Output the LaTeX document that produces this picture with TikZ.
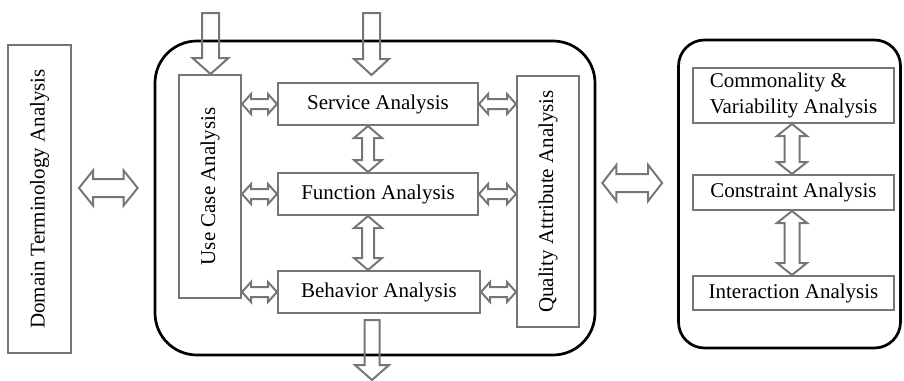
\documentclass[tikz,border=0pt]{standalone}
\usepackage{fontspec}
\setmainfont{Liberation Serif}
\usepackage{graphicx}
\usetikzlibrary{calc}

\definecolor{boxgray}{RGB}{118,118,118}

\tikzset{
  box/.style={draw=boxgray, line width=2pt, fill=white, inner sep=0pt,
    font=\fontsize{21}{26}\selectfont, align=center},
  frame/.style={draw=black, line width=2.7pt, inner sep=0pt},
  blockarrow/.style={draw=boxgray, line width=2pt, line join=miter},
}

% hollow double arrow, left end #1 to right end #2
% #3 half shaft width, #4 half head width, #5 head length
\newcommand\hbiarrow[5]{%
  \draw[blockarrow] let \p1=#1, \p2=#2 in
    (\x1,\y1) -- (\x1+#5,\y1+#4) -- (\x1+#5,\y1+#3) -- (\x2-#5,\y1+#3)
    -- (\x2-#5,\y1+#4) -- (\x2,\y1) -- (\x2-#5,\y1-#4) -- (\x2-#5,\y1-#3)
    -- (\x1+#5,\y1-#3) -- (\x1+#5,\y1-#4) -- cycle;}

% hollow double arrow, upper end #1 to lower end #2
\newcommand\vbiarrow[5]{%
  \draw[blockarrow] let \p1=#1, \p2=#2 in
    (\x1,\y1) -- (\x1+#4,\y1-#5) -- (\x1+#3,\y1-#5) -- (\x1+#3,\y2+#5)
    -- (\x1+#4,\y2+#5) -- (\x1,\y2) -- (\x1-#4,\y2+#5) -- (\x1-#3,\y2+#5)
    -- (\x1-#3,\y1-#5) -- (\x1-#4,\y1-#5) -- cycle;}

% hollow single arrow pointing down, tail #1, tip #2
\newcommand\vdownarrow[5]{%
  \draw[blockarrow] let \p1=#1, \p2=#2 in
    (\x1-#3,\y1) -- (\x1-#3,\y2+#5) -- (\x1-#4,\y2+#5) -- (\x1,\y2)
    -- (\x1+#4,\y2+#5) -- (\x1+#3,\y2+#5) -- (\x1+#3,\y1) -- cycle;}

\begin{document}
\begin{tikzpicture}[x=1pt, y=-1pt]
\useasboundingbox (0,0) rectangle (904,380);

% outer groups
\node[frame, rounded corners=42pt, minimum width=440pt, minimum height=314pt] (main) at (375,198) {};
\node[frame, rounded corners=26pt, minimum width=222pt, minimum height=308pt] (right) at (789.5,194) {};

% left column
\node[box, minimum width=63pt, minimum height=308pt] (domain) at (39.5,199)
  {\rotatebox{90}{Domain Terminology Analysis}};

% middle group
\node[box, minimum width=62pt, minimum height=223pt] (usecase) at (210,186.5)
  {\rotatebox{90}{Use Case Analysis}};
\node[box, minimum width=200pt, minimum height=42pt] (service) at (378,104) {Service Analysis};
\node[box, minimum width=200pt, minimum height=42pt] (function) at (378,194) {Function Analysis};
\node[box, minimum width=202pt, minimum height=42pt] (behavior) at (379,292) {Behavior Analysis};
\node[box, minimum width=62pt, minimum height=251pt] (quality) at (548,201.5)
  {\rotatebox{90}{Quality Attribute Analysis}};

% right group
\node[box, minimum width=201pt, minimum height=55pt, align=left] (common) at (793.5,95.5)
  {Commonality \&\\Variability Analysis};
\node[box, minimum width=201pt, minimum height=35pt] (constraint) at (793.5,192.5) {Constraint Analysis};
\node[box, minimum width=201pt, minimum height=34pt] (interaction) at (793.5,293) {Interaction Analysis};

% free ends of the input and output arrows
\coordinate (in1) at (210.5,13);
\coordinate (in2) at (371.5,13);
\coordinate (out) at (372,380);

% inputs and output
\vdownarrow{(in1)}{(usecase.north)}{8.5pt}{18pt}{16pt}
\vdownarrow{(in2)}{($(service.north)+(-6.5,-7)$)}{8.5pt}{17.5pt}{16pt}
\vdownarrow{($(behavior.south)+(-7,6)$)}{(out)}{7.5pt}{17pt}{15pt}

% links between groups
\hbiarrow{($(domain.east)+(7,-11)$)}{($(main.west)+(-16,-10)$)}{9pt}{17.5pt}{14pt}
\hbiarrow{($(main.east)+(6,-15)$)}{($(right.west)+(-15,-11)$)}{9pt}{18pt}{14pt}

% use case links
\hbiarrow{(usecase.east |- service.west)}{(service.west)}{5pt}{10pt}{9pt}
\hbiarrow{(usecase.east |- function.west)}{(function.west)}{5pt}{10pt}{9pt}
\hbiarrow{(usecase.east |- behavior.west)}{(behavior.west)}{5pt}{10pt}{9pt}

% quality attribute links
\hbiarrow{(service.east)}{(quality.west |- service.east)}{5pt}{10pt}{9pt}
\hbiarrow{(function.east)}{(quality.west |- function.east)}{5pt}{10pt}{9pt}
\hbiarrow{(behavior.east)}{(quality.west |- behavior.east)}{5pt}{10pt}{9pt}

% vertical links in the middle group
\vbiarrow{($(service.south)+(-10,0)$)}{(function.north)}{6pt}{14pt}{12pt}
\vbiarrow{($(function.south)+(-10,0)$)}{(behavior.north)}{6pt}{14pt}{12pt}

% vertical links in the right group
\vbiarrow{($(common.south)+(-1.5,0)$)}{(constraint.north)}{7.5pt}{15pt}{12pt}
\vbiarrow{($(constraint.south)+(-1.5,0)$)}{(interaction.north)}{7.5pt}{15pt}{12pt}
\end{tikzpicture}
\end{document}
